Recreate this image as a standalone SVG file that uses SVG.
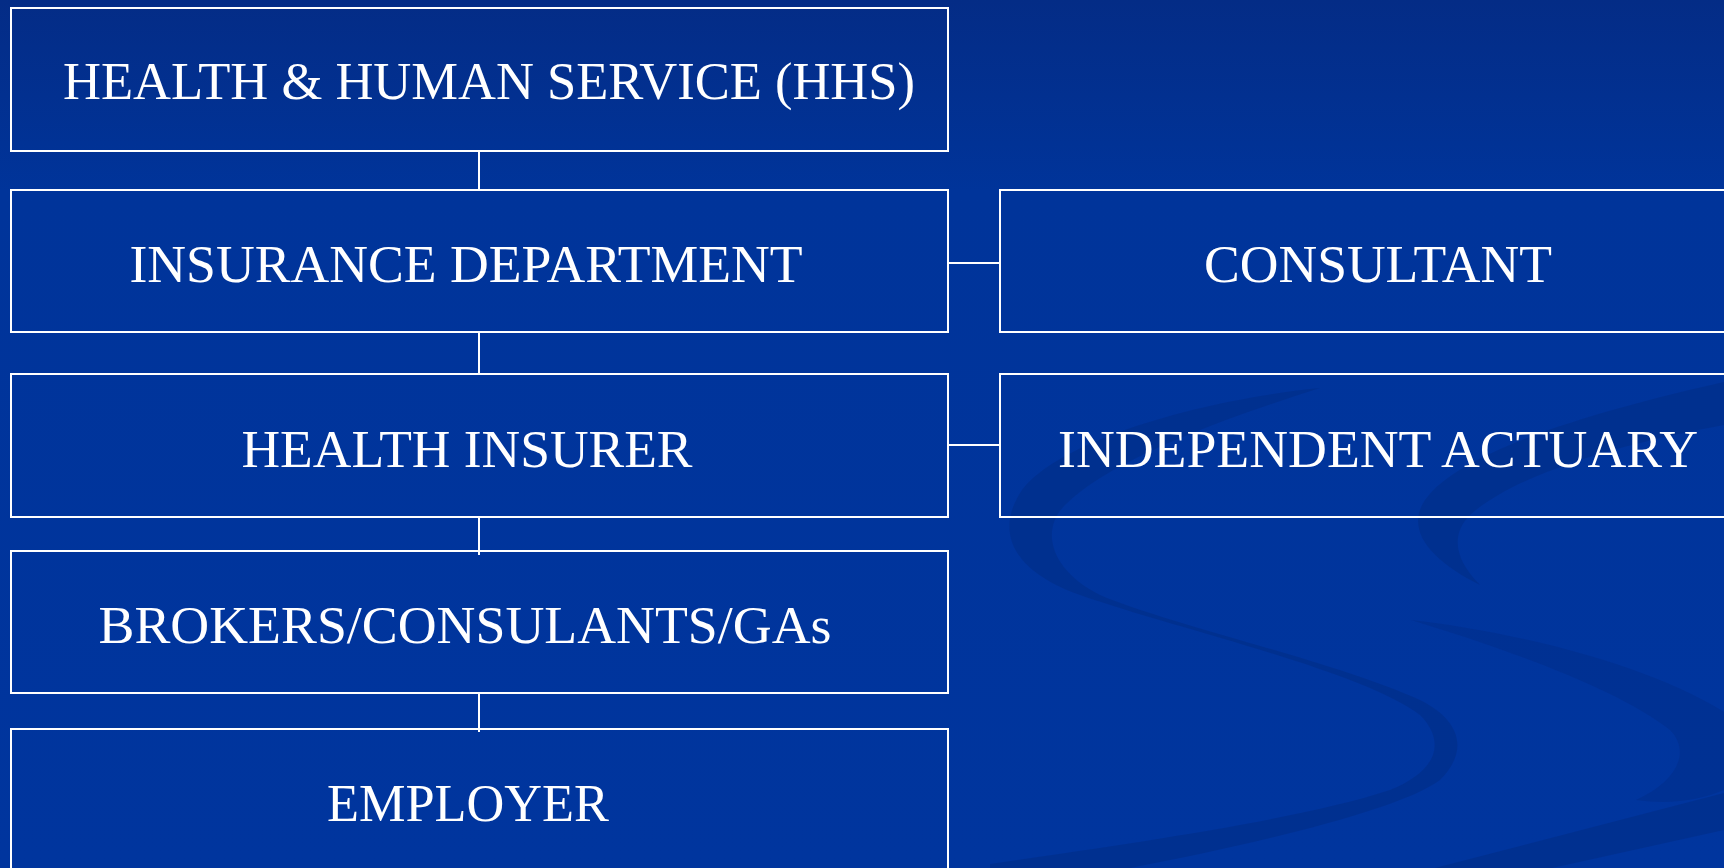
<svg xmlns="http://www.w3.org/2000/svg" width="1724" height="868" viewBox="0 0 1724 868">
  <defs>
    <linearGradient id="bg" x1="0" y1="0" x2="0" y2="1">
      <stop offset="0" stop-color="#042c86"/>
      <stop offset="0.22" stop-color="#00349a"/>
      <stop offset="1" stop-color="#00359e"/>
    </linearGradient>
    <style>
      .box { fill: none; stroke: #ffffff; stroke-width: 2; }
      .lbl { fill: #ffffff; font-family: "Liberation Serif", "Times New Roman", serif; font-size: 52px; text-anchor: middle; }
      .wire { stroke: #ffffff; stroke-width: 2; fill: none; }
      .swirl { fill: #002f8c; }
    </style>
  </defs>

  <!-- backdrop -->
  <rect x="0" y="0" width="1724" height="868" fill="url(#bg)"/>

  <!-- decorative swirls -->
  <g id="swirls">
    <path class="swirl" opacity="0.8" d="M 1320,388 C 1200,400 1060,440 1022,490 C 995,530 1010,570 1080,595 C 1180,630 1360,670 1420,715 C 1445,740 1440,770 1390,790 C 1300,820 1120,845 990,864 L 990,868 L 1130,868 C 1250,845 1400,810 1440,780 C 1470,750 1460,720 1420,700 C 1330,660 1170,625 1100,595 C 1050,570 1040,530 1065,505 C 1110,460 1220,420 1320,388 Z"/>
    <path class="swirl" opacity="0.8" d="M 1724,382 C 1600,410 1460,450 1425,500 C 1405,530 1430,560 1480,585 C 1455,560 1450,535 1470,515 C 1520,470 1640,440 1724,425 Z"/>
    <path class="swirl" opacity="0.6" d="M 1411,620 C 1500,630 1640,660 1724,712 L 1724,790 C 1700,800 1670,805 1636,800 C 1680,780 1690,750 1670,730 C 1620,690 1510,650 1411,620 Z"/>
    <path class="swirl" opacity="0.8" d="M 1724,793 L 1724,830 L 1552,868 L 1435,868 Z"/>
  </g>

  <!-- connectors -->
  <g id="connectors">
    <line class="wire" x1="479" y1="151" x2="479" y2="190"/>
    <line class="wire" x1="479" y1="332" x2="479" y2="374"/>
    <line class="wire" x1="479" y1="517" x2="479" y2="555"/>
    <line class="wire" x1="479" y1="693" x2="479" y2="732"/>
    <line class="wire" x1="948" y1="263" x2="1000" y2="263"/>
    <line class="wire" x1="948" y1="445" x2="1000" y2="445"/>
  </g>

  <g id="hhs">
    <rect class="box" x="11" y="8" width="937" height="143"/>
    <text class="lbl" x="489" y="99" textLength="852" lengthAdjust="spacingAndGlyphs">HEALTH &amp; HUMAN SERVICE (HHS)</text>
  </g>

  <g id="insurance-department">
    <rect class="box" x="11" y="190" width="937" height="142"/>
    <text class="lbl" x="466" y="282" textLength="673" lengthAdjust="spacingAndGlyphs">INSURANCE DEPARTMENT</text>
  </g>

  <g id="consultant">
    <rect class="box" x="1000" y="190" width="740" height="142"/>
    <text class="lbl" x="1378" y="282" textLength="348" lengthAdjust="spacingAndGlyphs">CONSULTANT</text>
  </g>

  <g id="health-insurer">
    <rect class="box" x="11" y="374" width="937" height="143"/>
    <text class="lbl" x="467" y="467" textLength="451" lengthAdjust="spacingAndGlyphs">HEALTH INSURER</text>
  </g>

  <g id="independent-actuary">
    <rect class="box" x="1000" y="374" width="740" height="143"/>
    <text class="lbl" x="1378" y="467" textLength="640" lengthAdjust="spacingAndGlyphs">INDEPENDENT ACTUARY</text>
  </g>

  <g id="brokers">
    <rect class="box" x="11" y="551" width="937" height="142"/>
    <text class="lbl" x="465" y="643" textLength="733" lengthAdjust="spacingAndGlyphs">BROKERS/CONSULANTS/GAs</text>
  </g>

  <g id="employer">
    <rect class="box" x="11" y="729" width="937" height="160"/>
    <text class="lbl" x="468" y="821" textLength="282" lengthAdjust="spacingAndGlyphs">EMPLOYER</text>
  </g>
</svg>
